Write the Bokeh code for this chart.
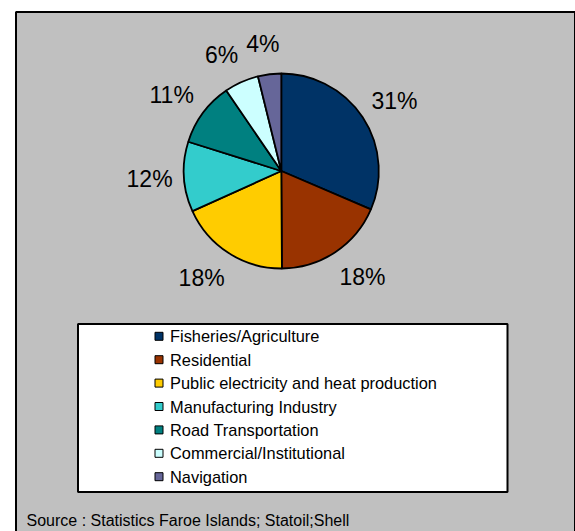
import math
from bokeh.plotting import figure
from bokeh.models import Range1d
from bokeh.embed import file_html
from bokeh.resources import INLINE
from bokeh.core.properties import value

# ---- data ----
categories = ["Fisheries/Agriculture", "Residential", "Public electricity and heat production",
              "Manufacturing Industry", "Road Transportation", "Commercial/Institutional", "Navigation"]
shares = [31.45, 18.45, 18.35, 11.6, 10.6, 5.7, 3.85]
colors = ["#003366", "#993300", "#FFCC00", "#33CCCC", "#008080", "#CCFFFF", "#666699"]
source_note = "Source : Statistics Faroe Islands; Statoil;Shell"

# ---- layout (pixel-like data coordinates, origin at top-left of the picture) ----
W, H = 575, 531
FONT = "Liberation Sans"

def Y(py):
    return H - py

p = figure(width=W, height=H, x_range=Range1d(0, W), y_range=Range1d(0, H),
           output_backend="svg", toolbar_location=None, min_border=0)
p.axis.visible = False
p.grid.visible = False
p.outline_line_color = None
p.background_fill_color = "white"
p.border_fill_color = "white"

# chart area
p.quad(left=15.5, right=574.5, top=Y(11.5), bottom=-20,
       fill_color="#C0C0C0", line_color="black", line_width=2)

# pie
cx, cy, R = 280.8, Y(170.5), 97.5
total = sum(shares)
starts, ends, mids = [], [], []
cum = 0.0
for v in shares:
    a0 = math.pi / 2 - 2 * math.pi * cum / total
    cum += v
    a1 = math.pi / 2 - 2 * math.pi * cum / total
    starts.append(a1)
    ends.append(a0)
    mids.append((a0 + a1) / 2)

p.wedge(x=cx, y=cy, radius=R, start_angle=starts, end_angle=ends,
        direction="anticlock", fill_color=colors, line_color="black", line_width=1.8)

# percentage labels placed outside slices
LF = 23
labels = [f"{round(v / total * 100)}%" for v in shares]
lx, ly = [], []
pad, vh = 16, 14
for lab, m in zip(labels, mids):
    hw = LF * (0.556 * (len(lab) - 1) + 0.889) / 2
    c, s = math.cos(m), math.sin(m)
    lx.append(cx + (R + pad) * c + 0.8 * hw * math.copysign(min(1.0, 3 * abs(c)), c))
    ly.append(cy + (R + pad) * s + vh * s)
p.text(x=lx, y=ly, text=labels, text_align="center", text_baseline="middle",
       text_font=value(FONT), text_font_size=f"{LF}px", text_color="black")

# legend box
p.quad(left=77.5, right=507, top=Y(323.5), bottom=Y(491.5),
       fill_color="white", line_color="black", line_width=2)
row0, step = 335.8, 23.4
ry = [Y(row0 + step * i) for i in range(len(categories))]
p.rect(x=[158.5] * len(categories), y=ry, width=8, height=8,
       fill_color=colors, line_color="black", line_width=1)
p.text(x=[169.5] * len(categories), y=ry, text=categories, text_align="left",
       text_baseline="middle", text_font=value(FONT), text_font_size="16.4px",
       text_color="black")

# source note
p.text(x=[26], y=[Y(519.5)], text=[source_note], text_align="left",
       text_baseline="alphabetic", text_font=value(FONT), text_font_size="16px",
       text_color="black")

open("out.html", "w").write(file_html(p, INLINE))
